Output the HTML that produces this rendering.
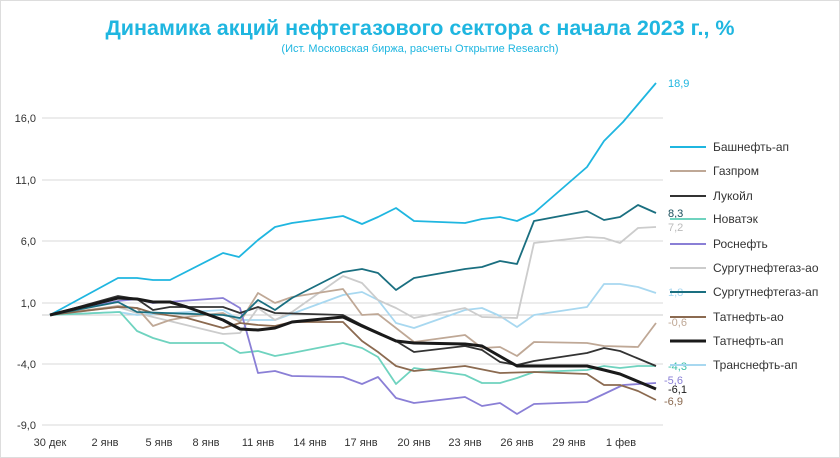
<!DOCTYPE html>
<html><head><meta charset="utf-8"><style>
body{margin:0;background:#fff}
svg{display:block;font-family:"Liberation Sans",sans-serif}
</style></head><body>
<svg width="840" height="458" viewBox="0 0 840 458">
<rect x="0.5" y="0.5" width="839" height="457" fill="#fff" stroke="#ddd"/>
<text x="420" y="35" text-anchor="middle" font-size="21.5" font-weight="bold" fill="#1fb6e0">Динамика акций нефтегазового сектора с начала 2023 г., %</text>
<text x="420" y="52" text-anchor="middle" font-size="11" fill="#1fb6e0">(Ист. Московская биржа, расчеты Открытие Research)</text>
<g stroke="#d9d9d9" stroke-width="1">
<line x1="42" x2="663" y1="118" y2="118"/><line x1="42" x2="663" y1="180" y2="180"/>
<line x1="42" x2="663" y1="241" y2="241"/><line x1="42" x2="663" y1="303" y2="303"/>
<line x1="42" x2="663" y1="364" y2="364"/><line x1="42" x2="663" y1="425" y2="425"/>
<line x1="42" x2="663" y1="315" y2="315" stroke="#ccc"/>
</g>
<g font-size="11" fill="#333" text-anchor="end">
<text x="36" y="122">16,0</text><text x="36" y="184">11,0</text><text x="36" y="245">6,0</text>
<text x="36" y="307">1,0</text><text x="36" y="368">-4,0</text><text x="36" y="429">-9,0</text>
</g>
<g font-size="11" fill="#333" text-anchor="middle">
<text x="50" y="446">30 дек</text><text x="105" y="446">2 янв</text><text x="159" y="446">5 янв</text>
<text x="206" y="446">8 янв</text><text x="258" y="446">11 янв</text><text x="310" y="446">14 янв</text>
<text x="361" y="446">17 янв</text><text x="414" y="446">20 янв</text><text x="465" y="446">23 янв</text>
<text x="517" y="446">26 янв</text><text x="569" y="446">29 янв</text><text x="621" y="446">1 фев</text>
</g>
<g fill="none" stroke-width="1.8" stroke-linejoin="round">
<polyline stroke="#a8d8f0" points="50,315 118,312 137,315 223,310 240,320 275,320 343,295 362,292 378,300 396,323 414,328 465,310 482,308 500,316 517,327 534,315 587,307 604,284 620,284 638,287 656,293"/>
<polyline stroke="#cccccc" points="50,315 118,307 137,313 153,317 223,334 240,333 258,308 275,320 292,312 343,276 362,283 378,300 396,308 414,318 465,308 482,317 517,318 534,243 587,237 604,238 620,243 638,228 656,227"/>
<polyline stroke="#bfa896" points="50,315 118,306 137,308 153,326 170,320 187,317 223,313 240,322 258,293 275,303 292,297 343,289 362,315 378,314 414,342 465,335 482,348 500,347 517,356 534,342 587,343 604,346 638,347 656,323"/>
<polyline stroke="#6fd3bf" points="50,315 120,312 137,331 153,338 170,343 223,343 240,353 258,351 275,356 292,353 343,343 362,348 378,357 396,384 414,368 465,375 482,383 500,383 517,378 534,372 587,370 604,366 620,368 638,366 656,366"/>
<polyline stroke="#8a7fd6" points="50,315 118,301 137,299 153,303 223,298 240,308 258,373 275,371 292,376 343,377 362,384 378,377 396,398 414,403 465,397 482,406 500,403 517,414 534,404 587,402 623,385 656,383"/>
<polyline stroke="#8b6a50" points="50,315 118,307 137,308 153,313 187,318 223,328 240,323 258,325 275,326 292,322 343,322 362,341 378,352 396,366 414,371 465,366 500,373 534,372 587,374 604,385 620,385 638,391 656,400"/>
<polyline stroke="#333333" points="50,315 118,296 137,299 153,310 170,307 223,307 240,313 258,307 275,313 343,315 362,325 396,341 414,352 465,346 482,350 500,362 517,365 534,361 587,353 604,348 620,351 656,366"/>
<polyline stroke="#1a6f80" points="50,315 118,302 137,312 223,315 240,318 258,300 275,310 292,298 343,272 362,269 378,273 396,290 414,278 465,269 482,267 500,261 517,264 534,221 587,211 604,220 620,217 638,205 656,213"/>
<polyline stroke="#1fb6e0" points="50,315 118,278 137,278 153,280 170,280 223,253 239,257 258,240 275,227 292,223 343,216 362,224 378,217 396,208 414,221 465,223 482,219 500,217 517,221 534,213 587,167 604,141 623,122 656,83"/>
<polyline stroke="#1a1a1a" stroke-width="3" points="50,315 118,298 137,299 153,302 170,302 187,307 223,320 240,329 258,330 275,328 292,322 343,317 362,326 396,341 414,343 465,344 482,346 517,366 534,366 587,366 604,370 620,374 656,389"/>
</g>
<g font-size="11">
<text x="668" y="87" fill="#1fb6e0">18,9</text>
<text x="668" y="217" fill="#1a4f5c">8,3</text>
<text x="668" y="231" fill="#bbb">7,2</text>
<text x="668" y="296" fill="#a8d8f0">1,8</text>
<text x="668" y="326" fill="#bfa896">-0,6</text>
<text x="668" y="370" fill="#3cc0a8">-4,3</text>
<text x="664" y="384" fill="#8a7fd6">-5,6</text>
<text x="668" y="393" fill="#1a1a1a">-6,1</text>
<text x="664" y="405" fill="#8b6a50">-6,9</text>
</g>
<g stroke-width="2">
<line x1="670" x2="706" y1="147" y2="147" stroke="#1fb6e0"/>
<line x1="670" x2="706" y1="171" y2="171" stroke="#bfa896"/>
<line x1="670" x2="706" y1="196" y2="196" stroke="#333"/>
<line x1="670" x2="706" y1="219" y2="219" stroke="#6fd3bf"/>
<line x1="670" x2="706" y1="244" y2="244" stroke="#8a7fd6"/>
<line x1="670" x2="706" y1="268" y2="268" stroke="#ccc"/>
<line x1="670" x2="706" y1="292" y2="292" stroke="#1a6f80"/>
<line x1="670" x2="706" y1="317" y2="317" stroke="#8b6a50"/>
<line x1="670" x2="706" y1="341" y2="341" stroke="#1a1a1a" stroke-width="3"/>
<line x1="670" x2="706" y1="365" y2="365" stroke="#a8d8f0"/>
</g>
<g font-size="12" fill="#333">
<text x="713" y="151">Башнефть-ап</text><text x="713" y="175">Газпром</text>
<text x="713" y="200">Лукойл</text><text x="713" y="223">Новатэк</text>
<text x="713" y="248">Роснефть</text><text x="713" y="272">Сургутнефтегаз-ао</text>
<text x="713" y="296">Сургутнефтегаз-ап</text><text x="713" y="321">Татнефть-ао</text>
<text x="713" y="345">Татнефть-ап</text><text x="713" y="369">Транснефть-ап</text>
</g>
</svg>
</body></html>
